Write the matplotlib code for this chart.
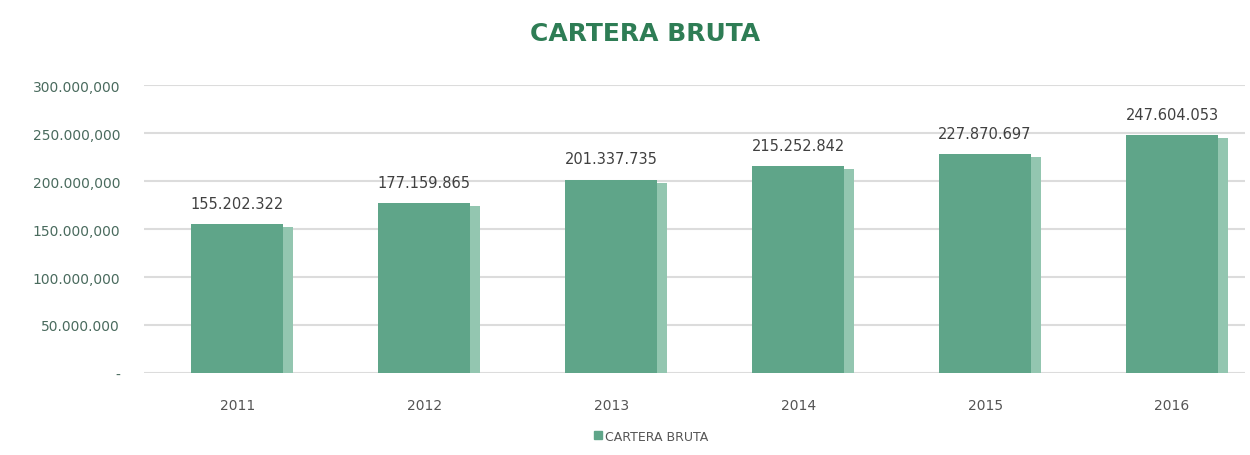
import matplotlib.pyplot as plt

# datos
anios = ['2011', '2012', '2013', '2014', '2015', '2016']
cartera = [155202322, 177159865, 201337735, 215252842, 227870697, 247604053]
etiquetas = ['155.202.322', '177.159.865', '201.337.735', '215.252.842', '227.870.697', '247.604.053']
y_ticks = [0, 50000000, 100000000, 150000000, 200000000, 250000000, 300000000]
y_labels = ['-', '50.000.000', '100.000,000', '150.000,000', '200.000,000', '250.000,000', '300.000,000']

verde = '#5fa589'
verde_claro = '#93c6b0'

fig = plt.figure(figsize=(12.5, 4.56), dpi=100)
ax = fig.add_axes([0.115, 0.18, 0.881, 0.631])

x_pos = range(len(anios))
ancho = 0.49
lado = 0.055

# cara lateral (efecto 3D)
ax.bar([x + ancho / 2 + lado / 2 for x in x_pos], [v - 3000000 for v in cartera], lado,
       color=verde_claro, zorder=2)
# cara frontal
ax.bar(x_pos, cartera, ancho, color=verde, zorder=3)

for x, v, t in zip(x_pos, cartera, etiquetas):
    ax.text(x, v + 14000000, t, ha='center', va='bottom', fontsize=10.5, color='#404040')

ax.set_xlim(-0.5, 5.39)
ax.set_ylim(0, 300000000)
ax.set_yticks(y_ticks)
ax.set_yticklabels(y_labels, color='#4a6b5e', fontsize=10)
ax.set_xticks(list(x_pos))
ax.set_xticklabels(anios, color='#555555', fontsize=10)
ax.tick_params(axis='y', length=0, pad=17)
ax.tick_params(axis='x', length=0, pad=18)
ax.grid(axis='y', color='#dcdcdc', linewidth=1.5, zorder=0)
ax.set_axisbelow(True)
for s in ax.spines.values():
    s.set_visible(False)

fig.text(0.516, 0.925, 'CARTERA BRUTA', ha='center', va='center', fontsize=18,
         fontweight='bold', color='#2e7d55')

# leyenda
ax.legend(handles=[plt.Rectangle((0, 0), 1, 1, color=verde)], labels=['CARTERA BRUTA'],
          loc='center', bbox_to_anchor=(0.461, -0.22), frameon=False, fontsize=9,
          handlelength=0.6, handleheight=0.6, handletextpad=0.3, labelcolor='#555555')

fig.savefig('out.png')
